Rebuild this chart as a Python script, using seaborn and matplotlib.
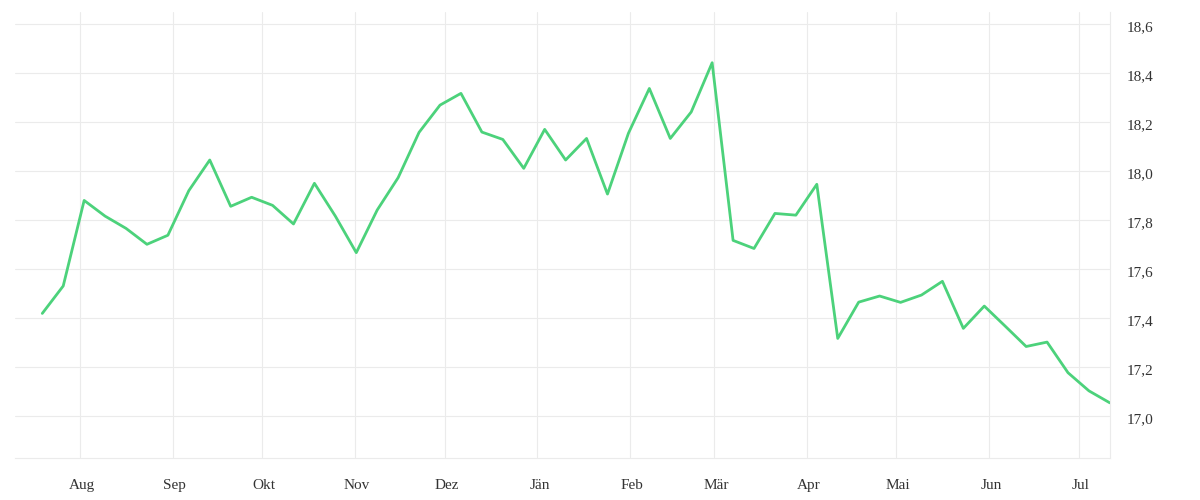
import pandas as pd
import numpy as np
import seaborn as sns
import matplotlib.pyplot as plt
import matplotlib.transforms as mtransforms
from matplotlib.ticker import FuncFormatter

# wöchentliche Werte, Juli bis Juli
start_date = "2022-07-19 10:00"
values = [17.419, 17.531, 17.880, 17.816, 17.766, 17.701, 17.738, 17.920, 18.045, 17.856,
          17.893, 17.860, 17.784, 17.950, 17.816, 17.667, 17.841, 17.973, 18.158, 18.269,
          18.317, 18.159, 18.129, 18.011, 18.170, 18.045, 18.133, 17.906, 18.154, 18.337,
          18.133, 18.241, 18.442, 17.717, 17.684, 17.827, 17.820, 17.946, 17.317, 17.465,
          17.490, 17.464, 17.494, 17.550, 17.358, 17.449, 17.367, 17.284, 17.302, 17.177,
          17.103, 17.054]
month_labels = ["Aug", "Sep", "Okt", "Nov", "Dez", "Jän", "Feb", "Mär", "Apr", "Mai", "Jun", "Jul"]
y_ticks = [17.0, 17.2, 17.4, 17.6, 17.8, 18.0, 18.2, 18.4, 18.6]

dates = pd.date_range(start_date, periods=len(values), freq="7D")
df = pd.DataFrame({"datum": dates, "wert": values})

sns.set_style("white")
plt.rcParams['font.family'] = ['Liberation Serif', 'DejaVu Serif']

grid_col = "#ebebeb"
text_col = "#333333"

fig = plt.figure(figsize=(12, 5), dpi=100)
ax = fig.add_axes([0.0125, 0.084, 0.9125, 0.892])

sns.lineplot(data=df, x="datum", y="wert", ax=ax, color="#4cd27b", linewidth=2.0)

left = pd.Timestamp("2022-07-10 07:00")
right = pd.Timestamp("2023-07-11 11:00")
ax.set_xlim(left, right)
ax.set_ylim(16.829, 18.649)

month_starts = pd.date_range("2022-08-01", periods=len(month_labels), freq="MS")
ax.set_xticks(month_starts)
ax.set_xticklabels(month_labels)
ax.set_xticks([right], minor=True)

ax.yaxis.tick_right()
ax.set_yticks(y_ticks)
ax.yaxis.set_major_formatter(FuncFormatter(lambda v, p: f"{v:.1f}".replace(".", ",")))

ax.grid(True, color=grid_col, linewidth=0.8)
ax.set_axisbelow(True)
for s in ["top", "left"]:
    ax.spines[s].set_visible(False)
for s in ["bottom", "right"]:
    ax.spines[s].set_color(grid_col)
    ax.spines[s].set_linewidth(0.8)

ax.tick_params(axis="x", which="both", length=7.5, width=0.8, color=grid_col,
               labelcolor=text_col, labelsize=11, pad=7.5)
ax.tick_params(axis="y", length=0, labelcolor=text_col, labelsize=11, pad=12)

# y-Beschriftung etwas unter die Gitterlinie, Monate leicht nach rechts
shift_y = mtransforms.ScaledTranslation(0, -2 / 100, fig.dpi_scale_trans)
for lbl in ax.get_yticklabels():
    lbl.set_transform(lbl.get_transform() + shift_y)
shift_x = mtransforms.ScaledTranslation(2 / 100, 0, fig.dpi_scale_trans)
for lbl in ax.get_xticklabels():
    lbl.set_transform(lbl.get_transform() + shift_x)

ax.set_xlabel("")
ax.set_ylabel("")

fig.savefig("out.png", dpi=100)
